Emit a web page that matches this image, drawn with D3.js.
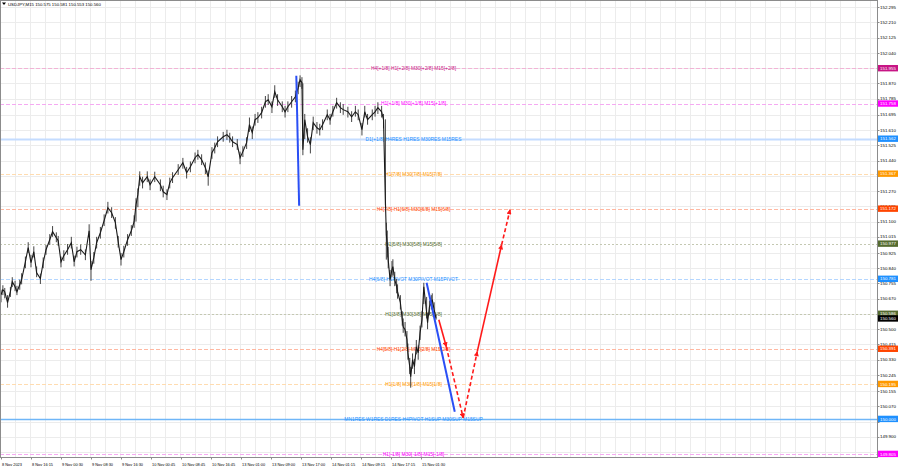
<!DOCTYPE html>
<html><head><meta charset="utf-8">
<script src="https://cdn.jsdelivr.net/npm/d3@7/dist/d3.min.js"></script>
<style>
html,body{margin:0;padding:0;background:#fff;}
svg{display:block;font-family:"Liberation Sans",Arial,sans-serif;}
</style></head>
<body>
<svg id="c" width="900" height="468"></svg>
<script>
// ---------------- DATA ----------------
const symbolTitle = "USDJPY,M15  150.575 150.581 150.553 150.560";

const timeTickBars = [0,32,64,96,128,160,192,224,256,288,320,352,384,416,448];
const timeTickLabels = ["8 Nov 2023","8 Nov 16:15","9 Nov 00:30","9 Nov 08:30","9 Nov 16:30","10 Nov 00:45","10 Nov 08:45","10 Nov 16:45","13 Nov 01:00","13 Nov 09:00","13 Nov 17:00","14 Nov 01:15","14 Nov 09:15","14 Nov 17:15","15 Nov 01:30"];

// price scale labels that are visible (the ones fully covered by level tags are omitted)
const priceTicks = [152.295,152.210,152.125,152.040,151.870,151.785,151.695,151.610,151.525,151.440,151.270,151.185,151.100,151.015,150.925,150.840,150.755,150.670,150.500,150.415,150.330,150.245,150.155,150.070,149.900,149.815];
const gridPrices = [152.295,152.210,152.125,152.040,151.955,151.870,151.785,151.695,151.610,151.525,151.440,151.355,151.270,151.185,151.100,151.015,150.925,150.840,150.755,150.670,150.585,150.500,150.415,150.330,150.245,150.155,150.070,149.985,149.900,149.815];

const barIndex = [0,2,4,7,10,12,15,17,20,22,26,29,32,35,38,42,45,48,52,55,59,61,64,67,71,75,78,81,85,90,94,96,99,102,106,110,114,118,122,125,128,131,135,139,142,144,146,148,151,156,159,164,170,173,177,180,183,189,194,198,202,207,210,214,218,221,225,228,231,237,241,244,247,252,255,258,262,265,268,271,274,278,282,285,289,292,295,300,303,306,310,314,317,319,321,322,324,327,330,333,337,340,343,348,351,354,358,362,365,370,374,378,381,385,388,391,396,399,402,406,408,410,411,412,413,415,417,418,420,422,423,426,428,429,431,433,434,436,437,439,441,443,445,447,449,451,454,455,457,459,460,462,464];
const barClose = [150.692,150.720,150.709,150.648,150.709,150.765,150.737,150.709,150.748,150.776,150.876,150.955,150.871,150.932,150.815,150.782,150.871,150.943,150.999,151.044,151.010,150.993,150.876,150.910,150.943,150.982,150.876,150.932,150.943,150.915,151.049,150.832,150.899,150.982,151.038,151.105,151.177,151.149,151.094,150.988,150.888,150.932,150.999,151.049,151.099,151.194,151.250,151.350,151.316,151.350,151.305,151.350,151.305,151.266,151.250,151.316,151.344,151.389,151.428,151.372,151.406,151.456,151.473,151.445,151.400,151.350,151.484,151.512,151.545,151.573,151.584,151.568,151.545,151.529,151.456,151.490,151.540,151.640,151.596,151.668,151.679,151.707,151.768,151.779,151.740,151.824,151.779,151.740,151.712,151.740,151.768,151.796,151.846,151.891,151.874,151.501,151.668,151.573,151.529,151.651,151.623,151.612,151.640,151.696,151.668,151.712,151.763,151.735,151.724,151.712,151.684,151.712,151.696,151.612,151.712,151.668,151.696,151.712,151.735,151.712,151.668,151.222,151.027,150.971,150.888,150.776,150.832,150.849,150.776,150.737,150.709,150.648,150.553,150.514,150.497,150.442,150.369,150.291,150.235,150.330,150.291,150.402,150.369,150.480,150.553,150.737,150.592,150.536,150.625,150.648,150.665,150.609,150.560];
const barHigh = [150.720,150.745,150.730,150.690,150.735,150.790,150.770,150.742,150.776,150.812,150.905,150.985,150.915,150.962,150.850,150.810,150.900,150.970,151.030,151.075,151.040,151.020,150.905,150.940,150.975,151.015,150.910,150.960,150.972,150.945,151.085,150.880,150.930,151.015,151.070,151.140,151.210,151.180,151.125,151.020,150.925,150.965,151.030,151.080,151.135,151.230,151.285,151.380,151.350,151.380,151.335,151.378,151.335,151.300,151.280,151.345,151.375,151.420,151.455,151.405,151.435,151.485,151.500,151.475,151.430,151.385,151.515,151.540,151.575,151.600,151.612,151.595,151.575,151.560,151.490,151.520,151.570,151.680,151.630,151.700,151.710,151.740,151.800,151.810,151.770,151.860,151.810,151.770,151.745,151.770,151.800,151.830,151.880,151.915,151.905,151.870,151.700,151.620,151.570,151.685,151.655,151.645,151.670,151.725,151.700,151.745,151.790,151.765,151.755,151.740,151.715,151.745,151.725,151.650,151.745,151.700,151.725,151.745,151.765,151.745,151.700,151.670,151.094,151.050,150.960,150.830,150.880,150.890,150.820,150.780,150.750,150.690,150.600,150.560,150.540,150.490,150.420,150.340,150.290,150.365,150.335,150.440,150.410,150.520,150.600,150.759,150.680,150.590,150.660,150.690,150.700,150.650,150.581];
const barLow = [150.650,150.690,150.672,150.620,150.680,150.735,150.712,150.690,150.720,150.750,150.840,150.925,150.845,150.900,150.790,150.752,150.840,150.915,150.970,151.015,150.985,150.965,150.845,150.880,150.915,150.950,150.850,150.900,150.915,150.885,151.010,150.770,150.865,150.950,151.005,151.075,151.145,151.120,151.060,150.955,150.855,150.900,150.965,151.020,151.065,151.100,151.180,151.300,151.285,151.320,151.275,151.320,151.270,151.235,151.220,151.285,151.315,151.360,151.395,151.340,151.375,151.425,151.445,151.415,151.365,151.300,151.450,151.480,151.515,151.545,151.555,151.540,151.515,151.500,151.420,151.460,151.505,151.600,151.560,151.635,151.650,151.675,151.735,151.750,151.705,151.790,151.745,151.710,151.680,151.710,151.735,151.765,151.810,151.850,151.840,151.470,151.560,151.540,151.480,151.610,151.590,151.580,151.610,151.665,151.640,151.685,151.730,151.705,151.695,151.680,151.655,151.685,151.665,151.580,151.680,151.640,151.665,151.685,151.700,151.680,151.620,151.190,150.888,150.900,150.840,150.740,150.790,150.800,150.740,150.700,150.670,150.610,150.520,150.480,150.460,150.400,150.330,150.250,150.174,150.280,150.250,150.360,150.330,150.440,150.510,150.640,150.560,150.500,150.580,150.610,150.620,150.575,150.553];

const levelPrices = [151.955,151.758,151.562,151.367,151.172,150.977,150.781,150.586,150.391,150.195,150.000,149.805];
const levelTexts = ["H4[+1/8] H1[+2/8] M30[+2/8] M15[+2/8]","H1[+1/8] M30[+1/8] M15[+1/8]","D1[+1/8] H4RES H1RES M30RES M15RES","H1[7/8] M30[7/8] M15[7/8]","H4[7/8] H1[6/8] M30[6/8] M15[6/8]","H1[5/8] M30[5/8] M15[5/8]","H4[6/8] H1PIVOT M30PIVOT M15PIVOT","H1[3/8] M30[3/8] M15[3/8]","H4[5/8] H1[2/8] M30[2/8] M15[2/8]","H1[1/8] M30[1/8] M15[1/8]","MN1RES W1RES D1RES H4PIVOT H1SUP M30SUP M15SUP","H1[-1/8] M30[-1/8] M15[-1/8]"];
const levelKinds = ["plus2","plus1","res","o7","o6","o5","pivot","o3","o2","o1","sup","minus1"];
const levelTextBar = 440;

const currentPrice = 150.560;

const trendStartBar = [315,454];
const trendStartPrice = [151.913,150.759];
const trendEndBar = [318,484];
const trendEndPrice = [151.188,150.040];

const forecastBars = [467,475,493,508,534,543];
const forecastPrices = [150.553,150.402,150.006,150.375,150.971,151.166];
const forecastDashed = [false,true,true,false,true];

// ---------------- STYLES ----------------
const kindStyle = {
  plus2:{text:"#c71585",line:"#f2b3d6",dash:"4,2",w:1,bg:"#c71585"},
  plus1:{text:"#f0f",line:"#f5aaf2",dash:"4,2",w:1,bg:"#f0f"},
  res:{text:"#1e90ff",line:"#c4dcff",dash:null,w:2,bg:"#1e90ff"},
  o7:{text:"#ff9900",line:"#ffdcb0",dash:"4,2",w:1,bg:"#ff9900"},
  o6:{text:"#ff4500",line:"#ffb8a2",dash:"4,2",w:1,bg:"#ff4500"},
  o5:{text:"#556b2f",line:"#c4c8b2",dash:"2,2",w:1,bg:"#556b2f"},
  pivot:{text:"#1e90ff",line:"#b4d6ff",dash:"4,2",w:1,bg:"#1e90ff"},
  o3:{text:"#556b2f",line:"#c4c8b2",dash:"2,2",w:1,bg:"#556b2f"},
  o2:{text:"#ff4500",line:"#ffb8a2",dash:"4,2",w:1,bg:"#ff4500"},
  o1:{text:"#ff9900",line:"#ffdcb0",dash:"4,2",w:1,bg:"#ff9900"},
  sup:{text:"#1e90ff",line:"#6fb6f8",dash:null,w:1.3,bg:"#1e90ff"},
  minus1:{text:"#f0f",line:"#f5aaf2",dash:"4,2",w:1,bg:"#f0f"}
};

// ---------------- DRAW ----------------
const svg = d3.select("#c");
const plotRight = 877.5, plotBottom = 457.5;

const x = d3.scaleLinear().domain([0,32]).range([1,31]);
const y = d3.scaleLinear().domain([149.8,152.3]).range([454.8,6.3]);

// grid
const grid = svg.append("g");
const gridBars = d3.range(15, 940, 16);
grid.selectAll("line.v").data(gridBars.filter(b => x(b) < plotRight - 2)).join("line")
  .attr("x1", b => Math.round(x(b)) + 0.5).attr("x2", b => Math.round(x(b)) + 0.5)
  .attr("y1", 0).attr("y2", plotBottom)
  .attr("stroke", "#ececec").attr("stroke-width", 1);
grid.selectAll("line.h").data(gridPrices).join("line")
  .attr("x1", 0).attr("x2", plotRight)
  .attr("y1", d => Math.round(y(d)) + 0.5).attr("y2", d => Math.round(y(d)) + 0.5)
  .attr("stroke", "#ececec").attr("stroke-width", 1);

// level lines
const lv = svg.append("g");
levelPrices.forEach((p, i) => {
  const st = kindStyle[levelKinds[i]];
  lv.append("line")
    .attr("x1", 0).attr("x2", plotRight)
    .attr("y1", Math.round(y(p)) + 0.5).attr("y2", Math.round(y(p)) + 0.5)
    .attr("stroke", st.line).attr("stroke-width", st.w)
    .attr("stroke-dasharray", st.dash);
});
// level texts
levelPrices.forEach((p, i) => {
  const st = kindStyle[levelKinds[i]];
  lv.append("text")
    .attr("x", x(levelTextBar)).attr("y", y(p) + 1.9)
    .attr("text-anchor", "middle")
    .attr("font-size", 4.9).attr("fill", st.text)
    .text(levelTexts[i]);
});

// price bars
const bars = d3.range(barIndex.length);
const pg = svg.append("g");
pg.selectAll("line").data(bars).join("line")
  .attr("x1", i => x(barIndex[i])).attr("x2", i => x(barIndex[i]))
  .attr("y1", i => y(barHigh[i])).attr("y2", i => y(barLow[i]))
  .attr("stroke", "#444").attr("stroke-width", 1);
pg.append("path")
  .attr("d", d3.line().x(i => x(barIndex[i])).y(i => y(barClose[i]))(bars))
  .attr("fill", "none").attr("stroke", "#1a1a1a").attr("stroke-width", 1.1);

// blue trend lines
const tg = svg.append("g");
trendStartBar.forEach((b, i) => {
  tg.append("line")
    .attr("x1", x(b)).attr("y1", y(trendStartPrice[i]))
    .attr("x2", x(trendEndBar[i])).attr("y2", y(trendEndPrice[i]))
    .attr("stroke", "#2a4ff5").attr("stroke-width", 2);
});

// forecast arrows
const defs = svg.append("defs");
defs.append("marker").attr("id", "ah")
  .attr("viewBox", "0 0 10 10").attr("refX", 9).attr("refY", 5)
  .attr("markerUnits", "userSpaceOnUse").attr("markerWidth", 6).attr("markerHeight", 5)
  .attr("orient", "auto")
  .append("path").attr("d", "M0,0 L10,5 L0,10 z").attr("fill", "#ff1a1a");
const fg = svg.append("g");
forecastDashed.forEach((dash, i) => {
  fg.append("line")
    .attr("x1", x(forecastBars[i])).attr("y1", y(forecastPrices[i]))
    .attr("x2", x(forecastBars[i+1])).attr("y2", y(forecastPrices[i+1]))
    .attr("stroke", "#ff1a1a").attr("stroke-width", 1.6)
    .attr("stroke-dasharray", dash ? "4,2.5" : null)
    .attr("marker-end", "url(#ah)");
});

// plot border
svg.append("rect").attr("x", 0.5).attr("y", 0.5).attr("width", plotRight - 0.5).attr("height", plotBottom - 0.5)
  .attr("fill", "none").attr("stroke", "#8c8c8c").attr("stroke-width", 1);

// right price axis labels
const ax = svg.append("g").attr("font-size", 4.4);
ax.selectAll("text").data(priceTicks).join("text")
  .attr("x", 880).attr("y", d => y(d) + 1.6).attr("fill", "#000").text(d => d.toFixed(3));
ax.selectAll("line").data(gridPrices).join("line")
  .attr("x1", plotRight).attr("x2", plotRight + 2)
  .attr("y1", d => Math.round(y(d)) + 0.5).attr("y2", d => Math.round(y(d)) + 0.5)
  .attr("stroke", "#8c8c8c");

// highlighted level labels
const hl = svg.append("g").attr("font-size", 4.4);
levelPrices.forEach((p, i) => {
  const st = kindStyle[levelKinds[i]];
  const cy = Math.min(y(p), 454.5);
  hl.append("rect").attr("x", 878).attr("y", cy - 3.2).attr("width", 20).attr("height", 6.4).attr("fill", st.bg);
  hl.append("text").attr("x", 880).attr("y", cy + 1.6).attr("fill", "#fff").text(p.toFixed(3));
});
hl.append("rect").attr("x", 878).attr("y", y(currentPrice) - 3.2).attr("width", 20).attr("height", 6.4).attr("fill", "#000");
hl.append("text").attr("x", 880).attr("y", y(currentPrice) + 1.6).attr("fill", "#fff").text(currentPrice.toFixed(3));

// time axis
const tx = svg.append("g").attr("font-size", 3.9);
tx.selectAll("text").data(timeTickBars).join("text")
  .attr("x", b => x(b) + 1).attr("y", 465.5).attr("fill", "#000")
  .text((b, i) => timeTickLabels[i]);
tx.selectAll("line").data(timeTickBars).join("line")
  .attr("x1", b => Math.round(x(b)) + 0.5).attr("x2", b => Math.round(x(b)) + 0.5)
  .attr("y1", plotBottom).attr("y2", plotBottom + 2).attr("stroke", "#8c8c8c");

// header
svg.append("path").attr("d", "M2,2.5 L6,2.5 L4,5 z").attr("fill", "#000");
svg.append("text").attr("x", 8).attr("y", 6).attr("font-size", 4.3).attr("fill", "#000").text(symbolTitle);
</script>
</body></html>
